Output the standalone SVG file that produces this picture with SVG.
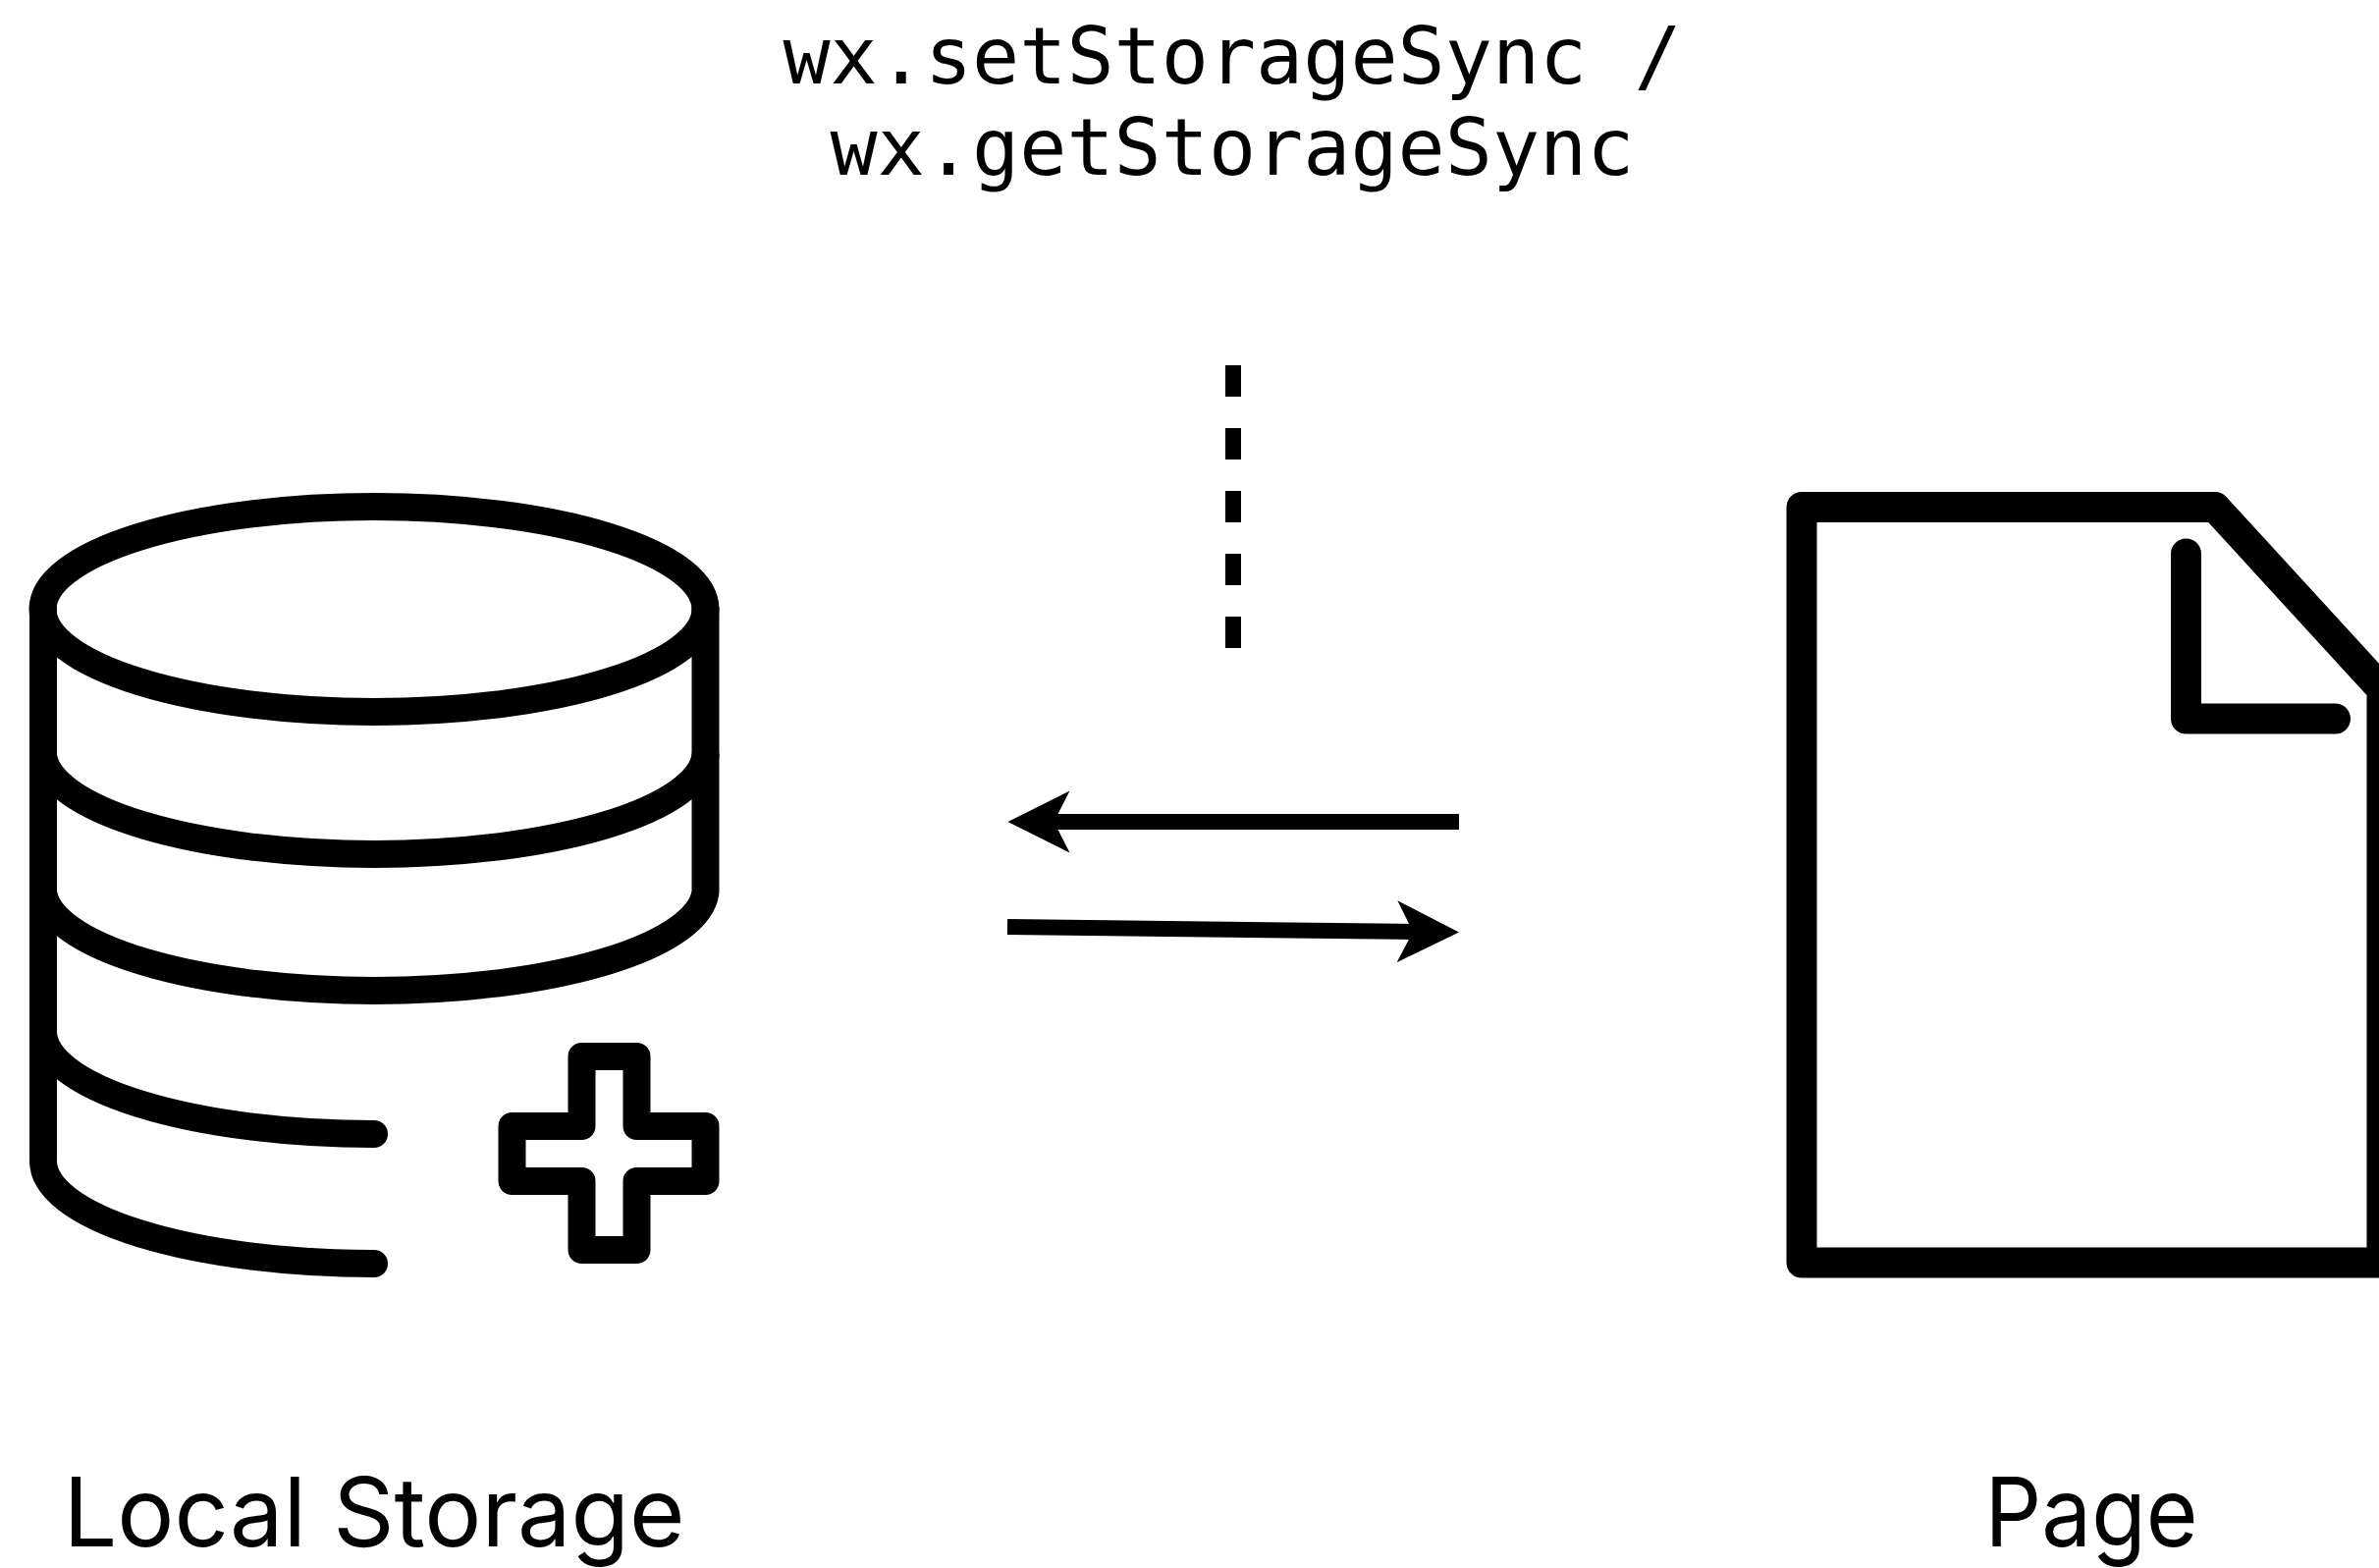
<svg xmlns="http://www.w3.org/2000/svg" width="2423" height="1597" viewBox="0 0 2423 1597">
<style>
.ic{fill:none;stroke:#000;stroke-linecap:round;stroke-linejoin:round}
.lbl{font-family:"Inter","Noto Sans",sans-serif;font-size:98px;fill:#000;text-anchor:middle}
.code{font-family:"DejaVu Sans Mono","Liberation Mono",monospace;font-size:80px;fill:#000;text-anchor:middle}
.ln{fill:none;stroke:#000;stroke-width:16}
</style>
<defs>
<marker id="ah" markerUnits="userSpaceOnUse" markerWidth="64" markerHeight="64" refX="47" refY="32" orient="auto" viewBox="0 0 64 64"><path d="M0 0.500L63 32L0 63.500L16 32Z" fill="#000"/></marker>
</defs>
<rect width="2423" height="1597" fill="#fff"/>
<g id="connectors">
<path class="ln" d="M1256 372V660" stroke-dasharray="32 32"/>
<path class="ln" d="M1486 837H1042.500" marker-end="url(#ah)"/>
<path class="ln" d="M1026 944L1470 949.300" marker-end="url(#ah)"/>
</g>
<g id="code-label">
<text class="code" x="1255" y="85">wx.setStorageSync /</text>
<text class="code" x="1255" y="178">wx.getStorageSync</text>
</g>
<g id="local-storage">
<g class="ic" stroke-width="28">
<ellipse cx="381" cy="620.500" rx="337.500" ry="104.500"/>
<path d="M44 769.500A337.500 104.500 0 0 0 718.500 769.500"/>
<path d="M718.500 620.500V908.500A337.500 104.500 0 0 1 44 908.500"/>
<path d="M44 620.500V1182.500A337.500 104.500 0 0 0 381 1287"/>
<path d="M44 1050.500A337.500 104.500 0 0 0 381 1155"/>
<path d="M592.500 1076H648.500V1147H718.500V1203H648.500V1273H592.500V1203H521.500V1147H592.500Z"/>
</g>
<text class="lbl" x="381" y="1575" textLength="633" lengthAdjust="spacingAndGlyphs">Local Storage</text>
</g>
<g id="page">
<path class="ic" stroke-width="31" d="M1835 516.500H2256L2426 702V1286H1835Z"/>
<path class="ic" stroke-width="31" d="M2226.500 564V732H2378.500"/>
<text class="lbl" x="2130" y="1575" textLength="217" lengthAdjust="spacingAndGlyphs">Page</text>
</g>
</svg>
